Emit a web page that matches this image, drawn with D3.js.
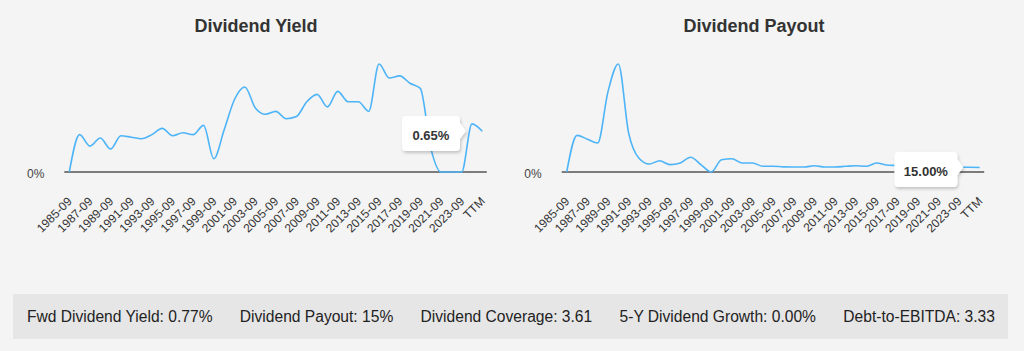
<!DOCTYPE html>
<html>
<head>
<meta charset="utf-8">
<script src="https://cdn.jsdelivr.net/npm/d3@7"></script>
<style>
  body { margin: 0; background: #f4f4f4; font-family: "Liberation Sans", Arial, sans-serif; }
  #wrap { position: relative; width: 1024px; height: 351px; overflow: hidden; }
  #stats {
    position: absolute; left: 13px; top: 294px; width: 995px; height: 45px;
    background: #e6e6e6; display: flex; justify-content: space-between; align-items: center;
    padding: 0 13px 0 14px; box-sizing: border-box; font-size: 15.6px; color: #222;
  }
</style>
</head>
<body>
<div id="wrap">
  <svg id="charts" width="1024" height="290"></svg>
  <div id="stats"></div>
</div>
<script>
// periods: 1985-09 .. 2024-09 plus TTM
var periods = d3.range(1985, 2025).map((y) => y + "-09").concat(["TTM"]);

// dividend yield, %
var yieldVals = [0, 0.505, 0.35, 0.46, 0.31, 0.49, 0.47, 0.45, 0.505, 0.59,
  0.49, 0.53, 0.505, 0.63, 0.18, 0.57, 0.98, 1.15, 0.87, 0.78,
  0.82, 0.72, 0.75, 0.95, 1.05, 0.88, 1.09, 0.95, 0.95, 0.82,
  1.46, 1.27, 1.30, 1.20, 1.13, 0.33, 0, 0, 0, 0.65, 0.55];

// dividend payout ratio, %
var payoutVals = [0, 114, 102, 90, 250, 336, 121, 43, 25, 35,
  23, 28, 46, 23, 0, 38, 41, 28, 28, 18,
  18, 16, 15.5, 15.5, 19.5, 15.5, 15.5, 17.7, 19.5, 17.7,
  28, 21.7, 20, 18, 17, 16, 17, 16, 15, 15, 14];

var statLabels = ["Fwd Dividend Yield: 0.77%", "Dividend Payout: 15%", "Dividend Coverage: 3.61",
  "5-Y Dividend Growth: 0.00%", "Debt-to-EBITDA: 3.33"];

var svg = d3.select("#charts");

var defs = svg.append("defs");
var f = defs.append("filter").attr("id", "shadow").attr("x", "-20%").attr("y", "-20%").attr("width", "150%").attr("height", "160%");
f.append("feDropShadow").attr("dx", 1).attr("dy", 2).attr("stdDeviation", 1.6).attr("flood-color", "#000").attr("flood-opacity", 0.2);

function drawChart(opts) {
  var g = svg.append("g");
  var x = d3.scalePoint().domain(periods).range([opts.x0, opts.x0 + 413]);
  var y = d3.scaleLinear().domain([0, d3.max(opts.values)]).range([172, 64]);

  g.append("text")
    .attr("x", opts.titleX).attr("y", 32)
    .attr("text-anchor", "middle")
    .attr("font-size", 18).attr("font-weight", "bold").attr("fill", "#333")
    .text(opts.title);

  g.append("line")
    .attr("x1", opts.x0 - 5).attr("x2", opts.x0 + 417.5)
    .attr("y1", y(0)).attr("y2", y(0))
    .attr("stroke", "#555").attr("stroke-width", 1.5);

  g.append("text")
    .attr("x", opts.x0 - 25).attr("y", y(0) + 6)
    .attr("text-anchor", "end")
    .attr("font-size", 12).attr("fill", "#444")
    .text("0%");

  g.selectAll(".tick")
    .data(periods.filter((d, i) => i % 2 == 0))
    .enter().append("text")
    .attr("transform", (d) => "translate(" + (x(d) + 3.5) + ",202) rotate(-45)")
    .attr("text-anchor", "end")
    .attr("font-size", 12).attr("fill", "#333")
    .text((d) => d);

  var line = d3.line()
    .x((d, i) => x(periods[i]))
    .y((d) => y(d))
    .curve(d3.curveMonotoneX);

  g.append("path")
    .datum(opts.values)
    .attr("d", line)
    .attr("fill", "none")
    .attr("stroke", "#4db4f7")
    .attr("stroke-width", 1.6);

  // tooltip callout pointing right at the hovered point
  var px = x(periods[opts.tipIndex]), py = y(opts.values[opts.tipIndex]);
  var w = opts.tipW, h = 35, r = 4;
  var bx = px - 12 - w, by = opts.tipY;
  var ay = Math.max(by + 15, Math.min(by + 20, py));
  var p = "M" + (bx + r) + "," + by +
    " H" + (bx + w - r) + " Q" + (bx + w) + "," + by + " " + (bx + w) + "," + (by + r) +
    " V" + (ay - 8) + " L" + (px - 6) + "," + ay + " L" + (bx + w) + "," + (ay + 8) +
    " V" + (by + h - r) + " Q" + (bx + w) + "," + (by + h) + " " + (bx + w - r) + "," + (by + h) +
    " H" + (bx + r) + " Q" + bx + "," + (by + h) + " " + bx + "," + (by + h - r) +
    " V" + (by + r) + " Q" + bx + "," + by + " " + (bx + r) + "," + by + " Z";
  g.append("path").attr("d", p).attr("fill", "#fff").attr("filter", "url(#shadow)");
  g.append("text")
    .attr("x", bx + w / 2).attr("y", by + 24)
    .attr("text-anchor", "middle")
    .attr("font-size", 13).attr("font-weight", "bold").attr("fill", "#333")
    .text(opts.tipText);
}

drawChart({ title: "Dividend Yield", titleX: 256, x0: 69.3, values: yieldVals,
  tipIndex: 39, tipText: "0.65%", tipW: 58, tipY: 116 });
drawChart({ title: "Dividend Payout", titleX: 754, x0: 566.7, values: payoutVals,
  tipIndex: 39, tipText: "15.00%", tipW: 63, tipY: 152 });

d3.select("#stats").selectAll("span")
  .data(statLabels)
  .enter().append("span")
  .text((d) => d);
</script>
</body>
</html>
